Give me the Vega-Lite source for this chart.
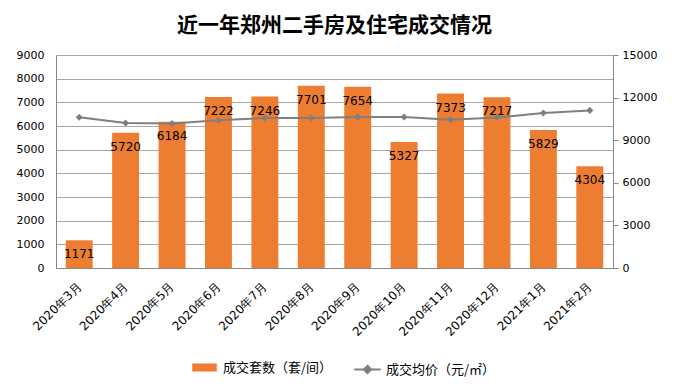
{
  "$schema": "https://vega.github.io/schema/vega-lite/v6.json",
  "autosize": {"type": "none"},
  "width": 557,
  "height": 213,
  "padding": {"left": 56, "top": 55, "right": 64, "bottom": 121},
  "background": "white",
  "title": {
    "text": "近一年郑州二手房及住宅成交情况",
    "font": "Noto Sans CJK SC",
    "fontSize": 21,
    "fontWeight": "bold",
    "color": "#000000",
    "anchor": "middle",
    "offset": 13
  },
  "config": {
    "view": {"stroke": null},
    "font": "DejaVu Sans"
  },
  "data": {
    "values": [
      {"month": "2020年3月", "count": 1171, "price": 10610},
      {"month": "2020年4月", "count": 5720, "price": 10210},
      {"month": "2020年5月", "count": 6184, "price": 10180},
      {"month": "2020年6月", "count": 7222, "price": 10400},
      {"month": "2020年7月", "count": 7246, "price": 10560},
      {"month": "2020年8月", "count": 7701, "price": 10560},
      {"month": "2020年9月", "count": 7654, "price": 10630},
      {"month": "2020年10月", "count": 5327, "price": 10630},
      {"month": "2020年11月", "count": 7373, "price": 10440},
      {"month": "2020年12月", "count": 7217, "price": 10600},
      {"month": "2021年1月", "count": 5829, "price": 10920},
      {"month": "2021年2月", "count": 4304, "price": 11100}
    ]
  },
  "encoding": {
    "x": {
      "field": "month",
      "type": "nominal",
      "sort": null,
      "scale": {"paddingInner": 0.42, "paddingOuter": 0.21},
      "axis": {
        "title": null,
        "labelAngle": -45,
        "labelAlign": "right",
        "labelBaseline": "middle",
        "labelFont": "DejaVu Sans",
        "labelFontSize": 12,
        "labelColor": "#000000",
        "labelPadding": 16,
        "labelDx": 4,
        "ticks": false,
        "domainColor": "#868686",
        "labelOverlap": false
      }
    }
  },
  "layer": [
    {
      "mark": {"type": "bar", "color": "#ED7D31"},
      "encoding": {
        "y": {
          "field": "count",
          "type": "quantitative",
          "scale": {"domain": [0, 9000]},
          "axis": {
            "title": null,
            "format": "d",
            "values": [0, 1000, 2000, 3000, 4000, 5000, 6000, 7000, 8000, 9000],
            "grid": true,
            "gridColor": "#a6a6a6",
            "ticks": false,
            "domainColor": "#868686",
            "labelFont": "DejaVu Sans",
            "labelFontSize": 11,
            "labelColor": "#000000",
            "labelPadding": 12
          }
        },
        "fill": {
          "datum": "成交套数（套/间）",
          "type": "nominal",
          "scale": {"range": ["#ED7D31"]},
          "legend": {
            "title": null,
            "orient": "none",
            "legendX": 136,
            "legendY": 300,
            "symbolType": "M-1,-0.33L1,-0.33L1,0.33L-1,0.33Z",
            "symbolSize": 600,
            "symbolStrokeWidth": 0,
            "labelFont": "Noto Sans CJK SC",
            "labelFontSize": 13,
            "labelColor": "#000000",
            "labelOffset": 6
          }
        }
      }
    },
    {
      "mark": {"type": "text", "baseline": "middle", "dy": 14, "fontSize": 12, "font": "DejaVu Sans", "color": "#000000"},
      "encoding": {
        "y": {"field": "count", "type": "quantitative", "scale": {"domain": [0, 9000]}, "axis": null},
        "text": {"field": "count", "type": "quantitative", "format": "d"}
      }
    },
    {
      "mark": {"type": "line", "color": "#7f7f7f", "strokeWidth": 2},
      "encoding": {
        "y": {
          "field": "price",
          "type": "quantitative",
          "scale": {"domain": [0, 15000]},
          "axis": {
            "title": null,
            "format": "d",
            "orient": "right",
            "values": [0, 3000, 6000, 9000, 12000, 15000],
            "grid": false,
            "ticks": true,
            "tickColor": "#868686",
            "tickSize": 5,
            "domainColor": "#868686",
            "labelFont": "DejaVu Sans",
            "labelFontSize": 11,
            "labelColor": "#000000",
            "labelPadding": 4
          }
        },
        "stroke": {
          "datum": "成交均价（元/㎡）",
          "type": "nominal",
          "scale": {"range": ["#7f7f7f"]},
          "legend": {
            "title": null,
            "orient": "none",
            "legendX": 297,
            "legendY": 300,
            "symbolType": "M-1,0L1,0M0,-0.28L0.28,0L0,0.28L-0.28,0Z",
            "symbolSize": 700,
            "symbolStrokeWidth": 2,
            "symbolFillColor": "#7f7f7f",
            "labelFont": "Noto Sans CJK SC",
            "labelFontSize": 13,
            "labelColor": "#000000",
            "labelOffset": 4
          }
        }
      }
    },
    {
      "mark": {"type": "point", "shape": "diamond", "filled": true, "color": "#7f7f7f", "size": 50, "opacity": 1},
      "encoding": {
        "y": {"field": "price", "type": "quantitative", "scale": {"domain": [0, 15000]}, "axis": null}
      }
    }
  ],
  "resolve": {"scale": {"y": "independent"}}
}
